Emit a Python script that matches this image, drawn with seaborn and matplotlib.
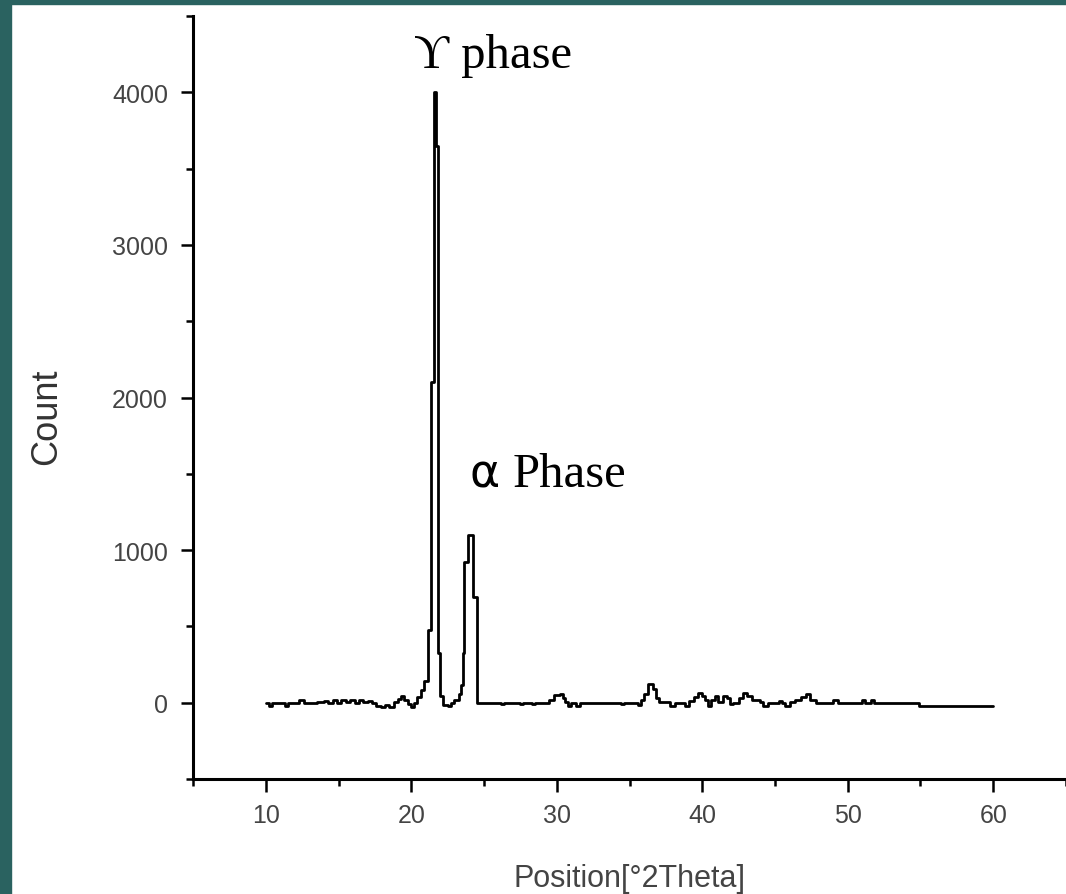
import matplotlib
matplotlib.use("Agg")
import matplotlib.pyplot as plt
import seaborn as sns
from matplotlib.ticker import FixedLocator
from matplotlib.patches import Rectangle

# XRD pattern (steps, position in deg 2theta)
two_theta = [
    10.0, 10.2, 10.4, 11.0, 11.3, 11.5, 12.3, 12.6, 13.5, 14.0,
    14.3, 14.6, 14.9, 15.2, 15.5, 15.8, 16.1, 16.4, 16.7, 17.0,
    17.3, 17.6, 17.9, 18.2, 18.5, 18.8, 19.1, 19.3, 19.5, 19.8,
    20.0, 20.2, 20.4, 20.65, 20.91, 21.14, 21.37, 21.58, 21.7, 21.82,
    22.0, 22.15, 22.5, 22.75, 22.95, 23.25, 23.4, 23.53, 23.65, 23.9,
    24.25, 24.52, 26.2, 26.4, 27.5, 27.7, 28.3, 28.5, 29.5, 29.8,
    30.2, 30.4, 30.6, 30.8, 31.0, 31.3, 31.6, 34.4, 34.6, 35.6,
    35.8, 36.0, 36.25, 36.6, 36.8, 37.0, 37.8, 38.1, 38.8, 39.1,
    39.4, 39.7, 40.0, 40.2, 40.4, 40.6, 40.9, 41.1, 41.4, 41.7,
    41.9, 42.1, 42.5, 42.8, 43.1, 43.4, 43.7, 44.0, 44.2, 44.5,
    45.3, 45.5, 45.7, 46.0, 46.4, 46.8, 47.1, 47.4, 47.8, 49.0,
    49.3, 51.0, 51.2, 51.6, 51.8, 54.9, 60.0,
]
counts = [
    -5, -20, 0, -5, -20, 0, 20, 0, 5, 10,
    0, 15, 0, 15, 5, 15, 0, 15, 5, 10,
    -5, -20, -25, -15, -25, 5, 25, 45, 20, -10,
    -25, -5, 35, 80, 145, 475, 2100, 4000, 3650, 325,
    45, -15, -20, -5, 20, 60, 115, 325, 925, 1100,
    690, 0, -10, 0, -10, 0, -10, 0, 20, 50,
    55, 30, 5, -20, 0, -20, 0, -10, 0, -15,
    20, 60, 125, 90, 30, 5, -20, 0, -20, 10,
    35, 65, 45, 20, -20, 20, 45, 5, 45, 30,
    -10, 0, 30, 65, 45, 20, 15, 5, -20, 0,
    10, 0, -20, 5, 20, 35, 55, 20, 0, 15,
    0, 15, 0, 15, 0, -20, -20,
]

x_major = [10, 20, 30, 40, 50, 60]
x_minor = [5, 15, 25, 35, 45, 55, 65]
y_major = [0, 1000, 2000, 3000, 4000]
y_minor = [-500, 500, 1500, 2500, 3500, 4500]

TEAL = "#2a6260"
W, H = 1066, 895

sns.set_theme(style="white")
plt.rcParams["font.family"] = ["Liberation Sans", "DejaVu Sans"]

fig = plt.figure(figsize=(W / 100, H / 100), dpi=100, facecolor="white")
# slide border (left and top strips)
fig.add_artist(Rectangle((0, 0), 11 / W, 1, transform=fig.transFigure,
                         color=TEAL, zorder=0))
fig.add_artist(Rectangle((0, 1 - 5 / H), 1, 5 / H, transform=fig.transFigure,
                         color=TEAL, zorder=0))

ax = fig.add_axes([193 / W, 115 / H, 1 - 193 / W, (780 - 17) / H])
ax.set_facecolor("white")

sns.lineplot(x=two_theta, y=counts, ax=ax, color="black", linewidth=2.0,
             drawstyle="steps-post", sort=False)

ax.set_xlim(5, 65)
ax.set_ylim(-500, 4500)
ax.xaxis.set_major_locator(FixedLocator(x_major))
ax.xaxis.set_minor_locator(FixedLocator(x_minor))
ax.yaxis.set_major_locator(FixedLocator(y_major))
ax.yaxis.set_minor_locator(FixedLocator(y_minor))

for s in ["top", "right"]:
    ax.spines[s].set_visible(False)
for s in ["left", "bottom"]:
    ax.spines[s].set_color("black")
    ax.spines[s].set_linewidth(2.2)

ax.tick_params(which="both", direction="out", bottom=True, left=True,
               color="black", width=1.8)
ax.tick_params(which="major", length=9, labelsize=18, labelcolor="#444444")
ax.tick_params(which="minor", length=5)
ax.tick_params(axis="x", which="major", pad=8)
ax.tick_params(axis="y", which="major", pad=9)
ax.set_xlabel("")
ax.set_ylabel("")

fig.text(47 / W, 1 - 417 / H, "Count", rotation=90, ha="center", va="center",
         fontsize=26, color="#333333")
fig.text(630 / W, 8 / H, "Position[°2Theta]", ha="center", va="baseline",
         fontsize=22, color="#444444")

serif = ["Liberation Serif", "DejaVu Serif"]
ax.text(20.2, 4165, "ϒ phase", fontsize=35, va="baseline", family=serif,
        color="black")
ax.text(23.97, 1417, "α", fontsize=33, va="baseline", family=["DejaVu Sans"],
        color="black")
ax.text(26.99, 1417, "Phase", fontsize=35, va="baseline", family=serif,
        color="black")

fig.savefig("out.png", dpi=100, facecolor=fig.get_facecolor())
